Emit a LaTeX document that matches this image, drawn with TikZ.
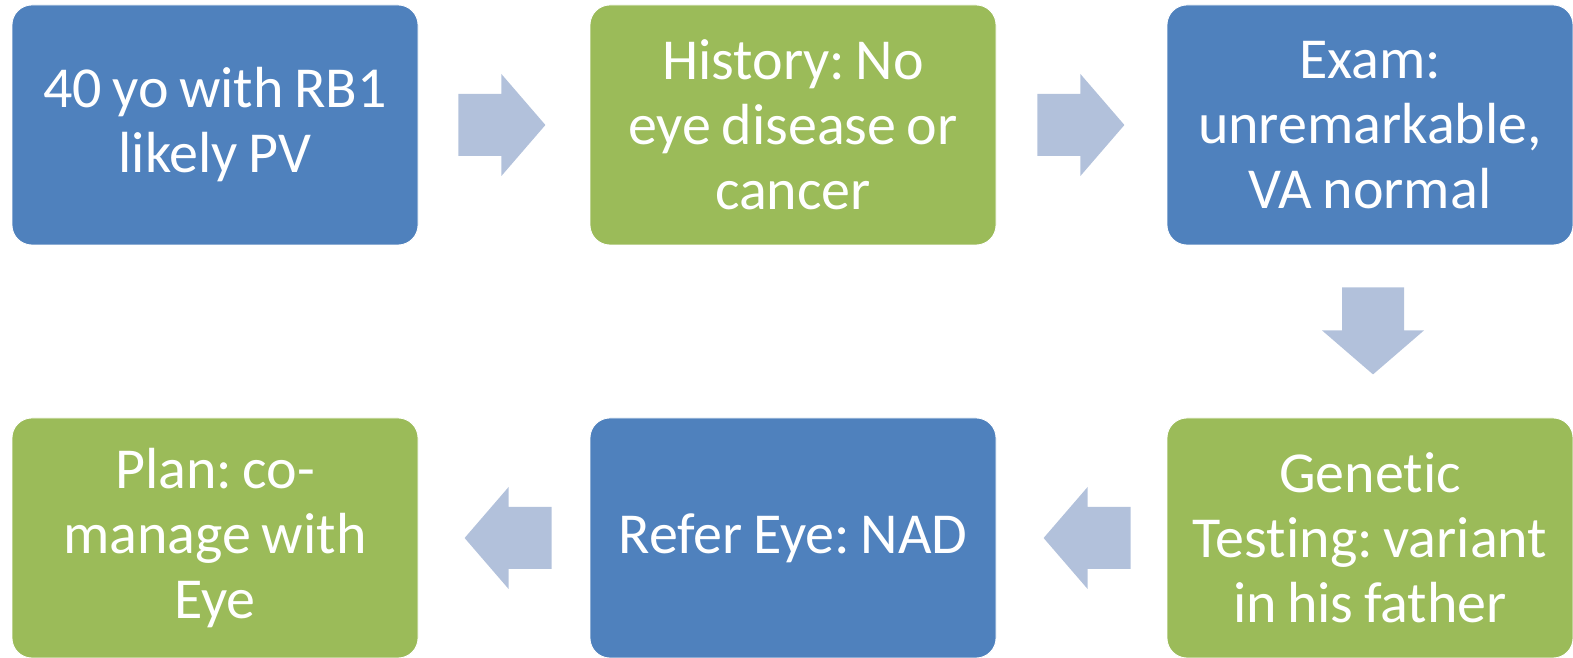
\documentclass[tikz,border=0pt]{standalone}
\usepackage{fontspec}
\setmainfont{Carlito}[Ligatures={NoCommon,NoContextual}, WordSpace=0.8]
\usetikzlibrary{calc}
\definecolor{stepblue}{HTML}{4F81BD}
\definecolor{stepgreen}{HTML}{9BBB59}
\definecolor{arrowblue}{HTML}{B2C1DB}
\frenchspacing
\begin{document}
\begin{tikzpicture}[x=1pt,y=1pt,
  stepbox/.style={rectangle, rounded corners=20pt, minimum width=406pt,
    minimum height=240pt, inner sep=0pt, align=center, text=white,
    draw=white, line width=0.8pt,
    font=\fontsize{58}{65}\selectfont},
  bluebox/.style={stepbox, fill=stepblue},
  greenbox/.style={stepbox, fill=stepgreen},
  flowarrow/.pic={\fill[arrowblue] (0,-31) -- (43,-31) -- (43,-51) -- (87,0)
    -- (43,51) -- (43,31) -- (0,31) -- cycle;}]
\useasboundingbox (0,0) rectangle (1573,658);
% top row
\node[bluebox]  (start)   at (215,533)  {40 yo with RB1\\likely PV};
\node[greenbox] (history) at (793,533)  {History: No\\eye disease or\\cancer};
\node[bluebox]  (exam)    at (1370,533) {Exam:\\unremarkable,\\VA normal};
% bottom row
\node[greenbox] (genetic) at (1370,120) {Genetic\\Testing: variant\\in his father};
\node[bluebox]  (refer)   at (793,120)  {Refer Eye: NAD};
\node[greenbox] (plan)    at (215,120)  {Plan: co-\\manage with\\Eye};
% block arrows between the steps
\path ($(start.east)+(40,0)$) pic {flowarrow};
\path ($(history.east)+(41,0)$) pic {flowarrow};
\path ($(exam.south)+(3,-42)$) pic[rotate=-90] {flowarrow};
\path ($(genetic.west)+(-36,0)$) pic[rotate=180] {flowarrow};
\path ($(refer.west)+(-38,0)$) pic[rotate=180] {flowarrow};
\end{tikzpicture}
\end{document}
